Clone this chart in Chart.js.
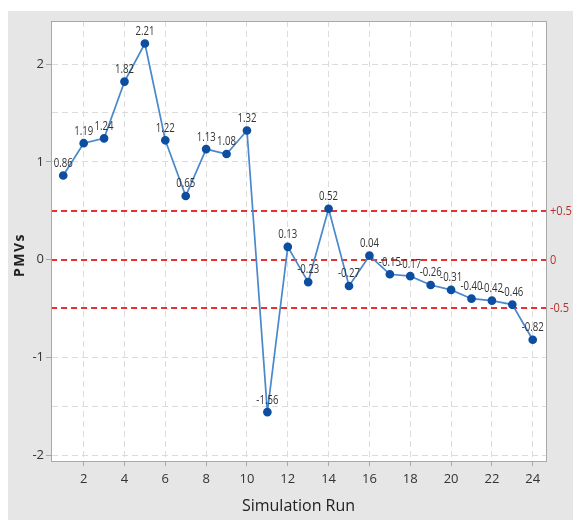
<!DOCTYPE html>
<html>
<head>
<meta charset="utf-8">
<script src="https://cdn.jsdelivr.net/npm/chart.js@4"></script>
<style>
  html, body { margin: 0; padding: 0; background: #fff; }
  #wrap { width: 573px; height: 520px; }
</style>
</head>
<body>
<div id="wrap"><canvas id="pmvChart" width="573" height="520"></canvas></div>
<script>
    // data
    var runs = [1, 2, 3, 4, 5, 6, 7, 8, 9, 10, 11, 12, 13, 14, 15, 16, 17, 18, 19, 20, 21, 22, 23, 24];
    var pmvs = [0.86, 1.19, 1.24, 1.82, 2.21, 1.22, 0.65, 1.13, 1.08, 1.32, -1.56, 0.13, -0.23, 0.52, -0.27, 0.04, -0.15, -0.17, -0.26, -0.31, -0.40, -0.42, -0.46, -0.82];
    var xTicks = [2, 4, 6, 8, 10, 12, 14, 16, 18, 20, 22, 24];
    var yGrid = [-2, -1.5, -1, -0.5, 0, 0.5, 1, 1.5, 2];
    var refLines = [0.5, 0, -0.5];
    var refLabels = ['+0.5', '0', '-0.5'];

    var fontFam = '"Open Sans", "Noto Sans", sans-serif';

    // narrow text, like the original's condensed labels
    function narrowText(c, txt, x, y, sx) {
        c.save();
        c.translate(x, y);
        c.scale(sx, 1);
        c.fillText(txt, 0, 0);
        c.restore();
    }

    var panelPlugin = {
        id: 'panel',
        beforeDraw: function (chart) {
            var c = chart.ctx, a = chart.chartArea;
            c.save();
            c.fillStyle = '#e6e6e6';
            c.fillRect(8, 11, chart.width - 8, chart.height - 11);
            c.fillStyle = '#ffffff';
            c.fillRect(a.left, a.top, a.right - a.left, a.bottom - a.top);
            // y title
            c.translate(20, 255);
            c.rotate(-Math.PI / 2);
            c.fillStyle = '#222';
            c.font = 'bold 14px ' + fontFam;
            c.textAlign = 'center';
            c.textBaseline = 'middle';
            c.letterSpacing = '1.5px';
            c.fillText('PMVs', 0, 0);
            c.restore();
        },
        beforeDatasetsDraw: function (chart) {
            var c = chart.ctx, a = chart.chartArea, y = chart.scales.y;
            c.save();
            c.strokeStyle = '#e8322f';
            c.lineWidth = 2;
            c.setLineDash([6, 4]);
            c.fillStyle = '#b3322c';
            c.font = '13px ' + fontFam;
            c.textBaseline = 'middle';
            c.textAlign = 'left';
            refLines.forEach(function (v, i) {
                var py = Math.round(y.getPixelForValue(v));
                c.beginPath();
                c.moveTo(a.left, py);
                c.lineTo(a.right, py);
                c.stroke();
                narrowText(c, refLabels[i], a.right + 4, py, 0.85);
            });
            c.setLineDash([]);
            c.lineWidth = 1;
            c.strokeStyle = '#a8a8a8';
            c.strokeRect(a.left + 0.5, a.top + 0.5, a.right - a.left, a.bottom - a.top);
            c.restore();
        },
        afterDatasetsDraw: function (chart) {
            var c = chart.ctx, meta = chart.getDatasetMeta(0);
            c.save();
            c.fillStyle = '#333333';
            c.font = '12px ' + fontFam;
            c.textAlign = 'center';
            c.textBaseline = 'bottom';
            meta.data.forEach(function (pt, i) {
                narrowText(c, pmvs[i].toFixed(2), pt.x, pt.y - 6, 0.8);
            });
            c.restore();
        }
    };

    var ctx = document.getElementById('pmvChart').getContext('2d');
    var pmvChart = new Chart(ctx, {
        type: 'line',
        data: {
            datasets: [{
                label: 'PMVs',
                data: runs.map(function (r, i) { return { x: r, y: pmvs[i] }; }),
                borderColor: '#4a88cc',
                borderWidth: 1.7,
                pointBackgroundColor: '#0d4ea0',
                pointBorderColor: '#0d4ea0',
                pointRadius: 3.5,
                tension: 0
            }]
        },
        options: {
            responsive: false,
            animation: false,
            layout: { padding: { top: 21, right: 27, left: 0, bottom: 0 } },
            plugins: { legend: { display: false }, tooltip: { enabled: false } },
            scales: {
                x: {
                    type: 'linear',
                    min: 0.4,
                    max: 24.65,
                    afterBuildTicks: function (s) { s.ticks = xTicks.map(function (v) { return { value: v }; }); },
                    afterFit: function (s) { s.height = 59; },
                    grid: { color: '#dcdcdc', tickColor: '#a8a8a8', tickLength: 5, drawOnChartArea: true },
                    border: { color: '#a8a8a8', dash: [6, 4] },
                    ticks: { color: '#333', font: { family: fontFam, size: 13 }, padding: 5, maxRotation: 0 },
                    title: { display: true, text: 'Simulation Run', color: '#222', font: { family: fontFam, size: 16 }, padding: { top: 6 } }
                },
                y: {
                    min: -2.06,
                    max: 2.44,
                    afterBuildTicks: function (s) { s.ticks = yGrid.map(function (v) { return { value: v }; }); },
                    afterFit: function (s) { s.width = 51; },
                    grid: {
                        color: '#dcdcdc',
                        tickLength: 5,
                        tickColor: function (c) { return Number.isInteger(c.tick.value) ? '#a8a8a8' : 'rgba(0,0,0,0)'; }
                    },
                    border: { color: '#a8a8a8', dash: [6, 4] },
                    ticks: {
                        color: '#333', font: { family: fontFam, size: 13 }, padding: 2,
                        callback: function (v) { return Number.isInteger(v) ? String(v) : ''; }
                    },
                    title: { display: false }
                }
            }
        },
        plugins: [panelPlugin]
    });
</script>
</body>
</html>
